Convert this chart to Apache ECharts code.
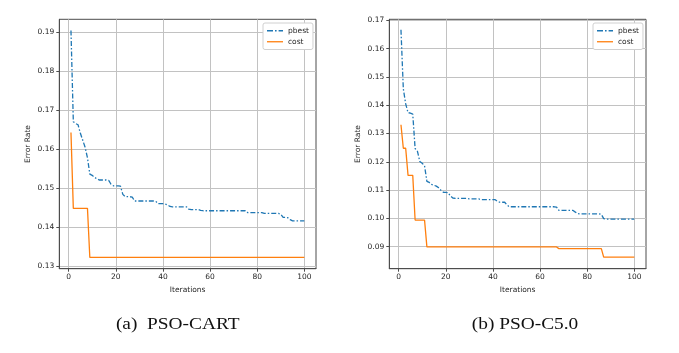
<!DOCTYPE html>
<html>
<head>
<meta charset="utf-8">
<script src="https://cdn.jsdelivr.net/npm/echarts@6/dist/echarts.min.js"></script>
<style>
html,body{margin:0;padding:0;background:#fff;}
#c{width:679px;height:353px;}
</style>
</head>
<body>
<div id="c"></div>
<script>
const iterations = [1,2,3,4,5,6,7,8,9,10,11,12,13,14,15,16,17,18,19,20,21,22,23,24,25,26,27,28,29,30,31,32,33,34,35,36,37,38,39,40,41,42,43,44,45,46,47,48,49,50,51,52,53,54,55,56,57,58,59,60,61,62,63,64,65,66,67,68,69,70,71,72,73,74,75,76,77,78,79,80,81,82,83,84,85,86,87,88,89,90,91,92,93,94,95,96,97,98,99,100];

const cartPbest = [0.1905,0.1671,0.1666,0.1663,0.1641,0.1623,0.1605,0.1578,0.1536,0.1533,
0.1528,0.1524,0.1521,0.1521,0.1521,0.1521,0.1520,0.1510,0.1506,0.1506,
0.1506,0.1505,0.1484,0.1478,0.1478,0.1478,0.1477,0.1467,0.1467,0.1467,
0.1467,0.1467,0.1467,0.1467,0.1467,0.1467,0.1466,0.1460,0.1460,0.1460,
0.1459,0.1457,0.1453,0.1452,0.1452,0.1452,0.1452,0.1452,0.1452,0.1452,
0.1446,0.1445,0.1445,0.1445,0.1445,0.1443,0.1442,0.1442,0.1442,0.1442,
0.1442,0.1442,0.1442,0.1442,0.1442,0.1442,0.1442,0.1442,0.1442,0.1442,
0.1442,0.1442,0.1442,0.1442,0.1442,0.1437,0.1437,0.1437,0.1437,0.1437,
0.1437,0.1437,0.1435,0.1435,0.1435,0.1435,0.1435,0.1435,0.1435,0.1433,
0.1425,0.1425,0.1424,0.1419,0.1416,0.1416,0.1416,0.1416,0.1416,0.1416];

const cartCost = [0.1643,0.1448,0.1448,0.1448,0.1448,0.1448,0.1448,0.1448,0.1322,0.1322,
0.1322,0.1322,0.1322,0.1322,0.1322,0.1322,0.1322,0.1322,0.1322,0.1322,
0.1322,0.1322,0.1322,0.1322,0.1322,0.1322,0.1322,0.1322,0.1322,0.1322,
0.1322,0.1322,0.1322,0.1322,0.1322,0.1322,0.1322,0.1322,0.1322,0.1322,
0.1322,0.1322,0.1322,0.1322,0.1322,0.1322,0.1322,0.1322,0.1322,0.1322,
0.1322,0.1322,0.1322,0.1322,0.1322,0.1322,0.1322,0.1322,0.1322,0.1322,
0.1322,0.1322,0.1322,0.1322,0.1322,0.1322,0.1322,0.1322,0.1322,0.1322,
0.1322,0.1322,0.1322,0.1322,0.1322,0.1322,0.1322,0.1322,0.1322,0.1322,
0.1322,0.1322,0.1322,0.1322,0.1322,0.1322,0.1322,0.1322,0.1322,0.1322,
0.1322,0.1322,0.1322,0.1322,0.1322,0.1322,0.1322,0.1322,0.1322,0.1322];

const c50Pbest = [0.1667,0.1458,0.1405,0.1374,0.1372,0.1369,0.1247,0.1237,0.1201,0.1195,
0.1186,0.1131,0.1127,0.1120,0.1117,0.1114,0.1108,0.1099,0.1092,0.1092,
0.1091,0.1079,0.1072,0.1071,0.1071,0.1071,0.1071,0.1071,0.1071,0.1069,
0.1069,0.1069,0.1069,0.1069,0.1066,0.1066,0.1066,0.1066,0.1066,0.1066,
0.1066,0.1060,0.1057,0.1057,0.1057,0.1047,0.1041,0.1041,0.1041,0.1041,
0.1041,0.1041,0.1041,0.1041,0.1041,0.1041,0.1041,0.1041,0.1041,0.1041,
0.1041,0.1041,0.1041,0.1041,0.1041,0.1041,0.1040,0.1028,0.1028,0.1028,
0.1028,0.1028,0.1028,0.1028,0.1022,0.1017,0.1016,0.1016,0.1016,0.1016,
0.1016,0.1016,0.1016,0.1016,0.1016,0.1014,0.0999,0.0997,0.0997,0.0997,
0.0997,0.0997,0.0997,0.0997,0.0997,0.0997,0.0997,0.0997,0.0997,0.0997];

const c50Cost = [0.1331,0.1248,0.1248,0.1152,0.1152,0.1152,0.0994,0.0994,0.0994,0.0994,
0.0994,0.0899,0.0899,0.0899,0.0899,0.0899,0.0899,0.0899,0.0899,0.0899,
0.0899,0.0899,0.0899,0.0899,0.0899,0.0899,0.0899,0.0899,0.0899,0.0899,
0.0899,0.0899,0.0899,0.0899,0.0899,0.0899,0.0899,0.0899,0.0899,0.0899,
0.0899,0.0899,0.0899,0.0899,0.0899,0.0899,0.0899,0.0899,0.0899,0.0899,
0.0899,0.0899,0.0899,0.0899,0.0899,0.0899,0.0899,0.0899,0.0899,0.0899,
0.0899,0.0899,0.0899,0.0899,0.0899,0.0899,0.0899,0.0893,0.0893,0.0893,
0.0893,0.0893,0.0893,0.0893,0.0893,0.0893,0.0893,0.0893,0.0893,0.0893,
0.0893,0.0893,0.0893,0.0893,0.0893,0.0893,0.0863,0.0863,0.0863,0.0863,
0.0863,0.0863,0.0863,0.0863,0.0863,0.0863,0.0863,0.0863,0.0863,0.0863];

const xTicks = [0,20,40,60,80,100];
const cartYTicks = [0.13,0.14,0.15,0.16,0.17,0.18,0.19];
const c50YTicks = [0.09,0.10,0.11,0.12,0.13,0.14,0.15,0.16,0.17];
const seriesNames = ['pbest','cost'];
const captions = ['(a)  PSO-CART','(b) PSO-C5.0'];
const xName = 'Iterations';
const yName = 'Error Rate';

const FONT = 'DejaVu Sans';
const TXT = '#262626';
const SPINE = '#4d4d4d';
const GRIDC = '#c2c2c2';
const BLUE = '#1f77b4';
const ORANGE = '#ff7f0e';

const ICON_DASHDOT = 'path://M0,0h6v1.3h-6z M8,0h1.6v1.3h-1.6z M11.6,0h4.4v1.3h-4.4z';
const ICON_SOLID = 'path://M0,0h16v1.3h-16z';

function pair(xs, ys){ return xs.map((x,i)=>[x, ys[i]]); }

function xAxis(gi){
  return {
    type:'value', gridIndex:gi, min:-3.95, max:104.95,
    name:xName, nameLocation:'middle', nameGap:15,
    nameTextStyle:{fontFamily:FONT,fontSize:7.5,color:TXT},
    axisLine:{show:true,onZero:false,lineStyle:{color:SPINE,width:1}},
    axisTick:{show:true,length:3,lineStyle:{color:SPINE,width:1},customValues:xTicks},
    axisLabel:{fontFamily:FONT,fontSize:7.5,color:TXT,margin:4,customValues:xTicks,formatter:v=>String(v)},
    splitLine:{show:true,lineStyle:{color:GRIDC,width:1}}
  };
}
function yAxis(gi,min,max,ticks){
  return {
    type:'value', gridIndex:gi, min:min, max:max,
    name:yName, nameLocation:'middle', nameGap:27,
    nameTextStyle:{fontFamily:FONT,fontSize:7.5,color:TXT},
    axisLine:{show:true,onZero:false,lineStyle:{color:SPINE,width:1}},
    axisTick:{show:true,length:3,lineStyle:{color:SPINE,width:1},customValues:ticks},
    axisLabel:{fontFamily:FONT,fontSize:7.5,color:TXT,margin:5,customValues:ticks,formatter:v=>v.toFixed(2)},
    splitLine:{show:true,lineStyle:{color:GRIDC,width:1}}
  };
}
function legend(left){
  return {
    left:left, top:23, orient:'vertical',
    backgroundColor:'#fff', borderColor:'#d0d0d0', borderWidth:1, borderRadius:2,
    padding:[3,4,3,4], itemGap:1.5, itemWidth:16, itemHeight:1.3,
    textStyle:{fontFamily:FONT,fontSize:7.5,color:TXT,lineHeight:9.5},
    data:[{name:seriesNames[0],icon:ICON_DASHDOT,itemStyle:{color:BLUE}},
          {name:seriesNames[1],icon:ICON_SOLID,itemStyle:{color:ORANGE}}]
  };
}
function lineSeries(name,gi,ys,color,dash){
  return {
    type:'line', name:name, xAxisIndex:gi, yAxisIndex:gi,
    data:pair(iterations,ys), symbol:'none', showSymbol:false,
    lineStyle:{color:color,width:1.3,type:dash||'solid'},
    itemStyle:{color:color}, animation:false, z:3
  };
}

const chart = echarts.init(document.getElementById('c'), null, {renderer:'canvas'});
chart.setOption({
  backgroundColor:'#fff',
  animation:false,
  grid:[
    {left:59.3, top:19.3, width:256.7, height:249.4, show:true, borderColor:SPINE, borderWidth:1, backgroundColor:'transparent'},
    {left:389.3, top:19.3, width:256.7, height:249.4, show:true, borderColor:SPINE, borderWidth:1, backgroundColor:'transparent'}
  ],
  xAxis:[xAxis(0), xAxis(1)],
  yAxis:[yAxis(0,0.1293,0.1934,cartYTicks), yAxis(1,0.0822,0.1704,c50YTicks)],
  legend:[legend(263), legend(593)],
  series:[
    lineSeries(seriesNames[0],0,cartPbest,BLUE,[5,2,1.5,2]),
    lineSeries(seriesNames[1],0,cartCost,ORANGE),
    lineSeries(seriesNames[0],1,c50Pbest,BLUE,[5,2,1.5,2]),
    lineSeries(seriesNames[1],1,c50Cost,ORANGE)
  ],
  graphic:[
    {type:'text', x:177.7, y:325, scaleX:1.21, style:{text:captions[0], font:'16px "Liberation Serif"', fill:'#111', align:'center', verticalAlign:'middle'}},
    {type:'text', x:525, y:325, scaleX:1.21, style:{text:captions[1], font:'16px "Liberation Serif"', fill:'#111', align:'center', verticalAlign:'middle'}}
  ]
});
</script>
</body>
</html>
